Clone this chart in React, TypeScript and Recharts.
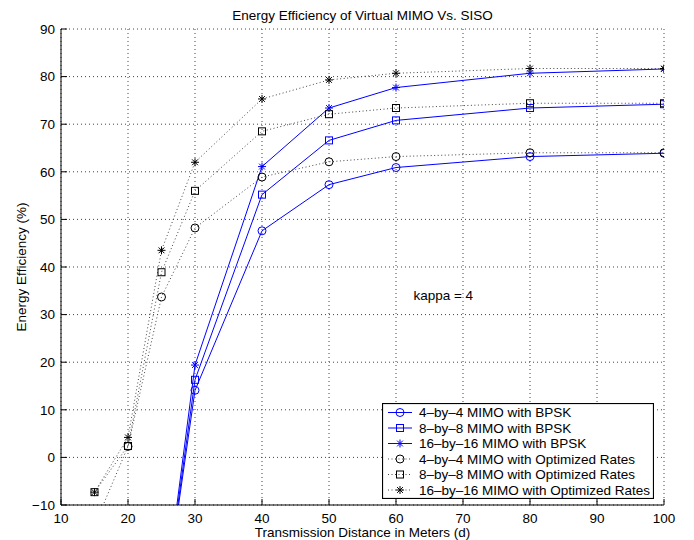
import { LineChart, Line, XAxis, YAxis, CartesianGrid, ReferenceDot } from 'recharts'

// distances (m)
const distances = [15, 20, 25, 30, 40, 50, 60, 80, 100]

// BPSK curves (first points fall below the axis and get clipped)
const bpsk4 = [null, null, -35, 14.1, 47.6, 57.3, 60.9, 63.2, 63.9]
const bpsk8 = [null, null, -35, 16.3, 55.2, 66.6, 70.8, 73.4, 74.2]
const bpsk16 = [null, null, -35, 19.4, 61.1, 73.4, 77.7, 80.7, 81.6]

// optimized rate curves
const opt4 = [-14.3, 2.3, 33.7, 48.2, 58.9, 62.1, 63.2, 64.0, 64.0]
const opt8 = [-7.3, 2.4, 38.9, 56.0, 68.5, 72.1, 73.4, 74.4, 74.4]
const opt16 = [-7.3, 4.2, 43.5, 62.0, 75.3, 79.3, 80.7, 81.7, 81.7]

const xTicks = [10, 20, 30, 40, 50, 60, 70, 80, 90, 100]
const yTicks = [-10, 0, 10, 20, 30, 40, 50, 60, 70, 80, 90]

const title = 'Energy Efficiency of Virtual MIMO Vs. SISO'

type Shape = 'circle' | 'square' | 'star'

const series: { key: string; name: string; color: string; dotted: boolean; shape: Shape; values: (number | null)[] }[] = [
  { key: 'bpsk4', name: '4–by–4 MIMO with BPSK', color: '#0000ff', dotted: false, shape: 'circle', values: bpsk4 },
  { key: 'bpsk8', name: '8–by–8 MIMO with BPSK', color: '#0000ff', dotted: false, shape: 'square', values: bpsk8 },
  { key: 'bpsk16', name: '16–by–16 MIMO with BPSK', color: '#0000ff', dotted: false, shape: 'star', values: bpsk16 },
  { key: 'opt4', name: '4–by–4 MIMO with Optimized Rates', color: '#000', dotted: true, shape: 'circle', values: opt4 },
  { key: 'opt8', name: '8–by–8 MIMO with Optimized Rates', color: '#000', dotted: true, shape: 'square', values: opt8 },
  { key: 'opt16', name: '16–by–16 MIMO with Optimized Rates', color: '#000', dotted: true, shape: 'star', values: opt16 },
]

const data = distances.map((d, i) => {
  const row: Record<string, number | null> = { d }
  series.forEach(s => {
    row[s.key] = s.values[i]
  })
  return row
})

const FONT = 13.5
const minus = (v: number) => String(v).replace('-', '−')

function Marker({ shape, cx, cy, color }: { shape: Shape; cx?: number | null; cy?: number | null; color: string }) {
  if (cx == null || cy == null || isNaN(cx) || isNaN(cy)) return null
  if (shape === 'circle') {
    return <circle cx={cx} cy={cy} r={4} fill="none" stroke={color} strokeWidth={1} />
  }
  if (shape === 'square') {
    return <rect x={cx - 3.5} y={cy - 3.5} width={7} height={7} fill="none" stroke={color} strokeWidth={1} />
  }
  const s = 4
  const k = 2.9
  return (
    <path
      d={`M${cx - s},${cy}H${cx + s}M${cx},${cy - s}V${cy + s}M${cx - k},${cy - k}L${cx + k},${cy + k}M${cx - k},${cy + k}L${cx + k},${cy - k}`}
      stroke={color}
      strokeWidth={1}
      fill="none"
    />
  )
}

function LegendBox() {
  return (
    <svg
      width={272}
      height={96}
      style={{ position: 'absolute', left: 382, top: 403, fontFamily: 'inherit' }}
    >
      <rect x={0.5} y={0.5} width={271} height={95} fill="#fff" stroke="#000" strokeWidth={1.2} />
      {series.map((s, i) => {
        const y = 9.5 + i * 15.5
        return (
          <g key={s.key}>
            <line
              x1={6}
              x2={30}
              y1={y}
              y2={y}
              stroke={s.dotted ? '#444' : s.color}
              strokeDasharray={s.dotted ? '1 2.5' : undefined}
            />
            <Marker shape={s.shape} cx={18} cy={y} color={s.color} />
            <text x={37} y={y} dy="0.36em" fontSize={FONT} fill="#000">
              {s.name}
            </text>
          </g>
        )
      })}
    </svg>
  )
}

export default function App() {
  return (
    <div
      style={{
        position: 'absolute',
        left: 0,
        top: 0,
        width: 694,
        height: 540,
        background: '#fff',
        fontFamily: '"Liberation Sans", Arial, Helvetica, sans-serif',
      }}
    >
      <svg width={694} height={29} style={{ position: 'absolute', left: 0, top: 0 }}>
        <text x={362.5} y={19.7} textAnchor="middle" fontSize={FONT} fill="#000">
          {title}
        </text>
      </svg>
      <LineChart width={694} height={540} data={data} margin={{ top: 29, right: 30, left: 21, bottom: 15 }}>
        <CartesianGrid stroke="#444" strokeDasharray="1 3" />
        <XAxis
          dataKey="d"
          type="number"
          domain={[10, 100]}
          ticks={xTicks}
          interval={0}
          allowDataOverflow
          height={20}
          stroke="#000"
          tickSize={-6}
          tickMargin={14}
          tick={{ fontSize: FONT, fill: '#000' }}
          label={{ value: 'Transmission Distance in Meters (d)', position: 'bottom', offset: 2.5, fontSize: FONT, fill: '#000' }}
        />
        <XAxis
          xAxisId="top"
          orientation="top"
          type="number"
          domain={[10, 100]}
          ticks={xTicks}
          interval={0}
          allowDataOverflow
          height={0}
          stroke="#000"
          tickSize={-6}
          tick={false}
        />
        <YAxis
          type="number"
          domain={[-10, 90]}
          ticks={yTicks}
          interval={0}
          allowDataOverflow
          width={40}
          stroke="#000"
          tickSize={-6}
          tickMargin={12}
          tickFormatter={minus}
          tick={{ fontSize: FONT, fill: '#000' }}
          label={{
            value: 'Energy Efficiency (%)',
            position: 'left',
            angle: -90,
            offset: 0,
            fontSize: FONT,
            fill: '#000',
            style: { textAnchor: 'middle' },
          }}
        />
        <YAxis
          yAxisId="right"
          orientation="right"
          type="number"
          domain={[-10, 90]}
          ticks={yTicks}
          interval={0}
          allowDataOverflow
          width={0}
          stroke="#000"
          tickSize={-6}
          tick={false}
        />
        {series.map(s => (
          <Line
            key={s.key}
            dataKey={s.key}
            name={s.name}
            type="linear"
            stroke={s.dotted ? '#444' : s.color}
            strokeWidth={1}
            strokeDasharray={s.dotted ? '1 2.5' : undefined}
            isAnimationActive={false}
            activeDot={false}
            dot={(p: any) => <Marker key={`${s.key}-${p.index}`} shape={s.shape} cx={p.cx} cy={p.cy} color={s.color} />}
          />
        ))}
        <ReferenceDot
          x={62.6}
          y={34}
          r={0}
          fill="none"
          stroke="none"
          label={{ value: 'kappa = 4', position: 'right', offset: 0, fontSize: FONT, fill: '#000' }}
        />
      </LineChart>
      <LegendBox />
    </div>
  )
}
